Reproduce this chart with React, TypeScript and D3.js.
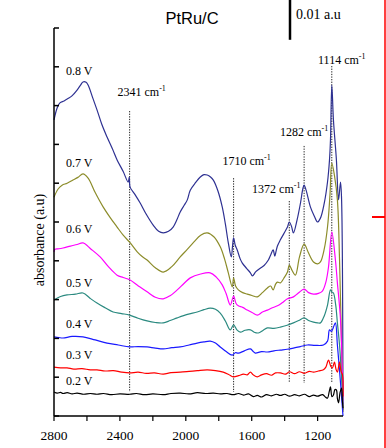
import React from "react";
import * as d3 from "d3";

// ---- data ----
const voltages = ["0.8 V", "0.7 V", "0.6 V", "0.5 V", "0.4 V", "0.3 V", "0.2 V"];
const colors = ["#2e3192", "#8c8c2a", "#ff00ff", "#2b8a80", "#1a1aff", "#ff0000", "#000000"];
const voltageLabelY = [0.0879, 0.0642, 0.0472, 0.0332, 0.0227, 0.0147, 0.008];

const s08: [number, number][] = [[2800,.0763],[2780,.0795],[2764,.0807],[2739,.0812],[2715,.0818],[2691,.0825],[2660,.0840],[2640,.0852],[2624,.0861],[2605,.0860],[2593,.0853],[2565,.0820],[2539,.0789],[2510,.0752],[2478,.0719],[2445,.0688],[2417,.0660],[2380,.0630],[2350,.0603],[2343,.0616],[2338,.0590],[2310,.0572],[2277,.0549],[2240,.0520],[2198,.0492],[2165,.0476],[2137,.0472],[2105,.0476],[2077,.0487],[2055,.0505],[2034,.0526],[2010,.0543],[1991,.0557],[1973,.0582],[1940,.0602],[1912,.0616],[1890,.0622],[1870,.0621],[1850,.0616],[1833,.0608],[1805,.0580],[1779,.0539],[1760,.0495],[1742,.0446],[1724,.0410],[1716,.0440],[1710,.0459],[1700,.0440],[1688,.0428],[1670,.0405],[1657,.0394],[1630,.0380],[1608,.0369],[1596,.0361],[1575,.0372],[1548,.0381],[1525,.0388],[1499,.0402],[1485,.0415],[1470,.0428],[1460,.0412],[1452,.0425],[1444,.0438],[1426,.0454],[1405,.0470],[1383,.0487],[1372,.0500],[1358,.0488],[1347,.0472],[1325,.0505],[1304,.0549],[1290,.0585],[1282,.0595],[1270,.0582],[1244,.0539],[1220,.0515],[1201,.0500],[1183,.0510],[1160,.0548],[1140,.0603],[1128,.0660],[1122,.0711],[1114,.0853],[1104,.0763],[1086,.0660],[1073,.0557],[1061,.0603],[1055,.0564],[1046,.0015]];
const s07: [number, number][] = [[2800,.0564],[2775,.0585],[2751,.0595],[2720,.0600],[2685,.0608],[2655,.0615],[2624,.0624],[2593,.0613],[2550,.0576],[2502,.0539],[2460,.0512],[2417,.0487],[2380,.0466],[2341,.0448],[2295,.0423],[2265,.0411],[2235,.0402],[2185,.0382],[2137,.0371],[2085,.0385],[2034,.0410],[1990,.0430],[1952,.0448],[1910,.0466],[1870,.0472],[1830,.0462],[1791,.0436],[1765,.0405],[1742,.0369],[1718,.0333],[1710,.0356],[1698,.0335],[1681,.0325],[1655,.0318],[1627,.0314],[1595,.0310],[1566,.0307],[1535,.0318],[1505,.0330],[1485,.0335],[1470,.0325],[1455,.0340],[1444,.0345],[1426,.0343],[1405,.0355],[1383,.0371],[1372,.0389],[1355,.0375],[1335,.0363],[1310,.0410],[1282,.0443],[1255,.0420],[1225,.0397],[1200,.0392],[1183,.0397],[1160,.0430],[1140,.0487],[1125,.0570],[1114,.0652],[1098,.0620],[1080,.0557],[1067,.0402],[1046,.0010]];
const s06: [number, number][] = [[2800,.0423],[2794,.0430],[2770,.0431],[2745,.0433],[2700,.0438],[2660,.0442],[2624,.0446],[2575,.0430],[2520,.0410],[2470,.0385],[2417,.0363],[2380,.0357],[2341,.0351],[2290,.0336],[2235,.0320],[2185,.0306],[2137,.0302],[2095,.0310],[2052,.0325],[2010,.0342],[1973,.0356],[1910,.0366],[1852,.0369],[1815,.0358],[1779,.0338],[1755,.0315],[1730,.0286],[1710,.0309],[1695,.0290],[1681,.0284],[1655,.0280],[1627,.0273],[1595,.0266],[1566,.0260],[1535,.0268],[1505,.0273],[1475,.0279],[1444,.0284],[1415,.0292],[1383,.0302],[1347,.0307],[1317,.0317],[1282,.0327],[1255,.0318],[1225,.0314],[1195,.0316],[1171,.0322],[1150,.0345],[1134,.0384],[1114,.0474],[1092,.0402],[1080,.0343],[1061,.0247],[1046,.0030]];
const s05: [number, number][] = [[2800,.0299],[2760,.0308],[2721,.0312],[2670,.0314],[2624,.0317],[2580,.0303],[2539,.0291],[2490,.0279],[2441,.0268],[2390,.0264],[2341,.0260],[2290,.0252],[2235,.0245],[2185,.0241],[2137,.0240],[2095,.0246],[2052,.0253],[1990,.0262],[1931,.0268],[1890,.0274],[1852,.0278],[1820,.0275],[1791,.0265],[1760,.0245],[1730,.0222],[1710,.0235],[1690,.0222],[1669,.0216],[1640,.0221],[1608,.0222],[1585,.0216],[1560,.0214],[1530,.0221],[1505,.0227],[1465,.0226],[1426,.0229],[1385,.0234],[1347,.0240],[1315,.0246],[1282,.0253],[1255,.0246],[1225,.0242],[1200,.0240],[1183,.0240],[1160,.0258],[1140,.0286],[1122,.0325],[1114,.0320],[1104,.0317],[1090,.0285],[1080,.0240],[1067,.0183],[1046,.0030]];
const s04: [number, number][] = [[2800,.0204],[2770,.0202],[2745,.0201],[2690,.0205],[2624,.0204],[2550,.0196],[2478,.0188],[2410,.0183],[2341,.0178],[2290,.0179],[2235,.0178],[2185,.0175],[2137,.0173],[2085,.0176],[2034,.0178],[1980,.0183],[1931,.0188],[1890,.0191],[1852,.0193],[1820,.0188],[1791,.0178],[1755,.0166],[1718,.0157],[1700,.0163],[1681,.0162],[1645,.0168],[1608,.0173],[1590,.0166],[1578,.0162],[1540,.0166],[1505,.0165],[1465,.0168],[1426,.0170],[1385,.0172],[1347,.0175],[1305,.0179],[1262,.0183],[1215,.0182],[1165,.0183],[1140,.0193],[1128,.0222],[1116,.0218],[1104,.0229],[1092,.0240],[1080,.0183],[1061,.0085],[1046,0]];
const s03: [number, number][] = [[2800,.0126],[2760,.0124],[2721,.0124],[2680,.0121],[2630,.0122],[2580,.0119],[2539,.0119],[2490,.0116],[2440,.0117],[2390,.0113],[2341,.0111],[2290,.0113],[2240,.0110],[2190,.0111],[2137,.0108],[2090,.0112],[2034,.0113],[1980,.0115],[1930,.0117],[1870,.0119],[1820,.0117],[1773,.0113],[1740,.0107],[1712,.0101],[1680,.0104],[1650,.0108],[1627,.0106],[1608,.0113],[1590,.0106],[1566,.0101],[1540,.0106],[1510,.0109],[1480,.0105],[1455,.0111],[1426,.0111],[1395,.0108],[1370,.0114],[1340,.0109],[1310,.0114],[1280,.0110],[1250,.0115],[1225,.0113],[1195,.0116],[1165,.0119],[1150,.0126],[1134,.0144],[1120,.0128],[1110,.0124],[1098,.0139],[1088,.0120],[1080,.0113],[1067,.0139],[1058,.0115],[1049,.0106],[1046,.0050]];
const s02: [number, number][] = [[2800,.0062],[2780,.0059],[2760,.0061],[2745,.0058],[2720,.0060],[2690,.0057],[2660,.0059],[2620,.0056],[2580,.0058],[2539,.0056],[2500,.0058],[2450,.0055],[2400,.0057],[2341,.0056],[2300,.0058],[2250,.0055],[2200,.0057],[2137,.0055],[2090,.0058],[2034,.0059],[1980,.0057],[1930,.0060],[1880,.0058],[1833,.0059],[1790,.0057],[1750,.0058],[1712,.0055],[1680,.0058],[1650,.0054],[1620,.0057],[1590,.0050],[1566,.0053],[1540,.0049],[1510,.0055],[1480,.0052],[1450,.0056],[1426,.0053],[1400,.0056],[1370,.0051],[1340,.0055],[1310,.0052],[1280,.0056],[1250,.0050],[1225,.0054],[1200,.0051],[1170,.0055],[1150,.0048],[1140,.0046],[1130,.0062],[1122,.0075],[1113,.0050],[1104,.0054],[1095,.0068],[1086,.0067],[1080,.0045],[1073,.0034],[1064,.0060],[1055,.0072],[1050,.0040],[1046,.0020]];
const seriesList = [s08, s07, s06, s05, s04, s03, s02];

const peakWn = [2341, 1710, 1372, 1282, 1114];
const peakTop = [0.0786, 0.0613, 0.0554, 0.0696, 0.0902];
const peakBottom = [0.0062, 0.0062, 0.0085, 0.0085, 0.0085];
const peakLabelY = [0.0825, 0.0647, 0.0575, 0.0722, 0.0907];
const peakLabelDx = [12, 13, -13, 0, 10];

const xTicks = [2800, 2600, 2400, 2200, 2000, 1800, 1600, 1400, 1200];
const xTickLabels = [2800, 2400, 2000, 1600, 1200];
const yTicks = [0, 0.01, 0.02, 0.03, 0.04, 0.05, 0.06, 0.07, 0.08, 0.09, 0.1];

// ---- layout ----
const W = 386, H = 448;
const L = 54, R = 343, T = 28, B = 416;

export default function App() {
  const x = d3.scaleLinear().domain([2800, 1046]).range([L, R]);
  const y = d3.scaleLinear().domain([0, 0.1]).range([B, T]);
  const line = d3.line<[number, number]>().x(d => x(d[0])).y(d => y(d[1])).curve(d3.curveCatmullRom.alpha(0.5));
  const serif = "Liberation Serif";
  const scaleLen = y(0) - y(0.01);

  return (
    <svg width={W} height={H} style={{ position: "absolute", left: 0, top: 0, background: "#fff" }}>
      <rect x={0} y={0} width={W} height={H} fill="#fff" />
      {/* title */}
      <text x={192} y={24} textAnchor="middle" fontFamily="Liberation Sans" fontSize={16.5} fill="#000">PtRu/C</text>
      {/* scale bar */}
      <line x1={290} x2={290} y1={0} y2={scaleLen + 1} stroke="#000" strokeWidth={2.5} />
      <text x={296} y={19} fontFamily={serif} fontSize={14} fill="#000">0.01 a.u</text>

      {/* peak dotted lines */}
      {peakWn.map((w, i) => (
        <line key={"pl" + i} x1={x(w)} x2={x(w)} y1={y(peakTop[i])} y2={y(peakBottom[i])}
          stroke="#222" strokeWidth={1} strokeDasharray="1.3,1.3" />
      ))}

      {/* series */}
      {seriesList.map((s, i) => (
        <path key={"s" + i} d={line(s) || ""} fill="none" stroke={colors[i]} strokeWidth={1.2} strokeLinejoin="round" />
      ))}

      {/* peak labels */}
      {peakWn.map((w, i) => (
        <text key={"pt" + i} x={x(w) + peakLabelDx[i]} y={y(peakLabelY[i])} textAnchor="middle"
          fontFamily={serif} fontSize={12} fill="#000">
          {w} cm<tspan fontSize={8} dy={-5}>-1</tspan>
        </text>
      ))}

      {/* voltage labels */}
      {voltages.map((v, i) => (
        <text key={"v" + i} x={66} y={y(voltageLabelY[i])} fontFamily={serif} fontSize={12} fill="#000">{v}</text>
      ))}

      {/* axes */}
      <line x1={L} x2={L} y1={T} y2={B} stroke="#000" strokeWidth={1.5} />
      <line x1={L} x2={R} y1={B} y2={B} stroke="#000" strokeWidth={1.5} />
      {yTicks.map((t, i) => (
        <line key={"yt" + i} x1={L} x2={L + 5} y1={y(t)} y2={y(t)} stroke="#000" strokeWidth={1.5} />
      ))}
      {xTicks.map((t, i) => (
        <line key={"xt" + i} x1={x(t)} x2={x(t)} y1={B} y2={B + 5} stroke="#000" strokeWidth={1.2} />
      ))}
      {xTickLabels.map((t, i) => (
        <text key={"xl" + i} x={x(t)} y={440} textAnchor="middle" fontFamily={serif} fontSize={13.5} fill="#000">{t}</text>
      ))}
      <text transform="translate(44,240) rotate(-90)" textAnchor="middle" fontFamily={serif} fontSize={14} fill="#000">absorbance (a.u)</text>

      {/* red artifact from adjacent panel */}
      <line x1={385} x2={385} y1={0} y2={H} stroke="#ff0000" strokeWidth={1.5} />
      <line x1={372} x2={385} y1={217} y2={217} stroke="#ff0000" strokeWidth={2} />
    </svg>
  );
}
